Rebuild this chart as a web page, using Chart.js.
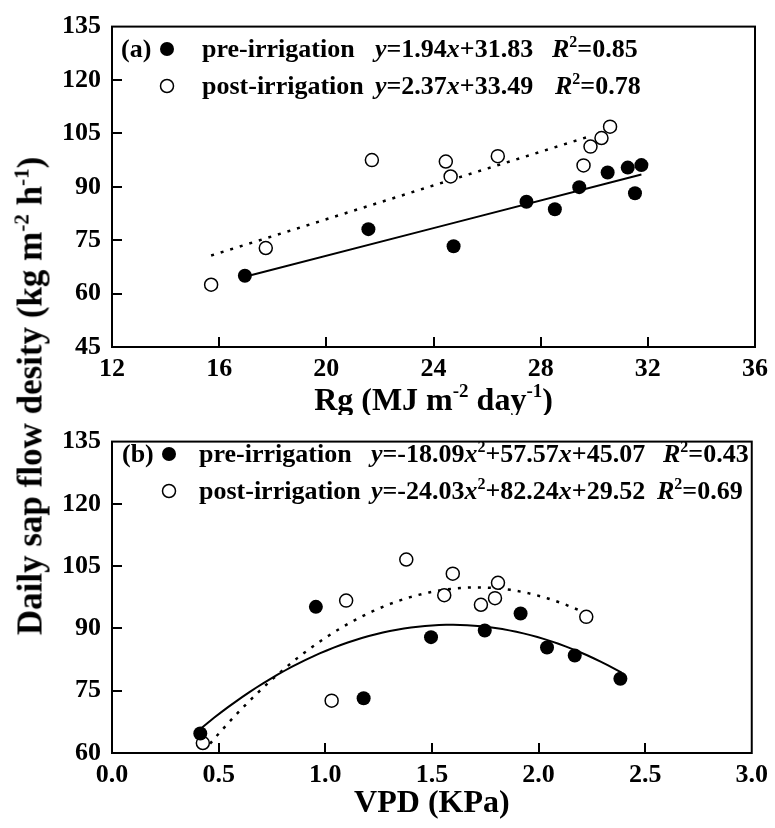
<!DOCTYPE html>
<html>
<head>
<meta charset="utf-8">
<script src="https://cdn.jsdelivr.net/npm/chart.js@4.4.1/dist/chart.umd.min.js"></script>
<style>
  html, body { margin: 0; padding: 0; background: #fff; }
  #wrap { position: relative; width: 775px; height: 828px; }
  canvas { position: absolute; left: 0; display: block; }
  #chartA { top: 0; }
  #chartB { top: 415px; }
  #ytitle {
    position: absolute; left: 30px; top: 396px;
    transform: translate(-50%, -50%) rotate(-90deg);
    font: bold 35px "Liberation Serif", "Times New Roman", serif;
    white-space: nowrap; line-height: 1; color: #000;
  }
  #ytitle sup { font-size: 0.6em; vertical-align: 0.6em; line-height: 0; }
</style>
</head>
<body>
<div id="wrap">
  <canvas id="chartA" width="775" height="415"></canvas>
  <canvas id="chartB" width="775" height="413"></canvas>
  <div id="ytitle">Daily sap flow desity (kg m<sup>-2</sup> h<sup>-1</sup>)</div>
</div>
<script>
// panel (a): daily sap flow vs Rg
const rgPre = [16.96, 21.57, 24.75, 27.47, 28.53, 29.44, 30.50, 31.25, 31.76, 31.52];
const sapRgPre = [65.0, 78.1, 73.3, 85.8, 83.7, 89.9, 94.0, 95.4, 96.1, 88.2];
const rgPost = [15.70, 17.74, 21.70, 24.46, 24.64, 26.40, 29.60, 29.86, 30.27, 30.59];
const sapRgPost = [62.5, 72.8, 97.5, 97.1, 92.9, 98.6, 96.0, 101.3, 103.7, 106.9];
const fitRgPre = [1.94, 31.83];
const fitRgPost = [2.37, 33.49];
const r2Rg = [0.85, 0.78];
const rgPreRange = [16.96, 31.76];
const rgPostRange = [15.7, 29.9];
const rgTicks = [12, 16, 20, 24, 28, 32, 36];
const sapTicksA = [45, 60, 75, 90, 105, 120, 135];

// panel (b): daily sap flow vs VPD
const vpdPre = [0.414, 0.956, 1.18, 1.496, 1.748, 1.916, 2.04, 2.17, 2.384];
const sapVpdPre = [64.7, 95.2, 73.2, 87.9, 89.5, 93.6, 85.4, 83.5, 77.9];
const vpdPost = [0.426, 1.03, 1.098, 1.38, 1.558, 1.598, 1.73, 1.796, 1.81, 2.224];
const sapVpdPost = [62.4, 72.6, 96.7, 106.6, 98.0, 103.2, 95.7, 97.3, 101.0, 92.8];
const fitVpdPre = [-18.09, 57.57, 45.07];
const fitVpdPost = [-24.03, 82.24, 29.52];
const r2Vpd = [0.43, 0.69];
const vpdPreRange = [0.414, 2.39];
const vpdPostRange = [0.46, 2.22];
const vpdTicks = [0, 0.5, 1, 1.5, 2, 2.5, 3];
const vpdTickLabels = ['0.0', '0.5', '1.0', '1.5', '2.0', '2.5', '3.0'];
const sapTicksB = [60, 75, 90, 105, 120, 135];

const FAM = '"Liberation Serif", "Times New Roman", serif';
const tickFont = { family: FAM, size: 26, weight: 'bold' };

function pts(xs, ys) { return xs.map((x, i) => ({ x: x, y: ys[i] })); }

// fitted line from the printed coefficients (highest power first)
function curve(c, range, n) {
  const out = [];
  for (let i = 0; i <= n; i++) {
    const x = range[0] + (range[1] - range[0]) * i / n;
    out.push({ x: x, y: c.reduce((acc, k) => acc * x + k, 0) });
  }
  return out;
}

function eqText(c) {
  if (c.length === 2) return '*y*=' + c[0] + '*x*+' + c[1];
  return '*y*=' + c[0] + '*x*^2^+' + c[1] + '*x*+' + c[2];
}

// *italic*  ^superscript^
function rich(ctx, str, x, y, size, align) {
  const parts = str.split(/(\*[^*]+\*|\^[^^]+\^)/).filter(s => s).map(s => {
    if (s[0] === '*') return { t: s.slice(1, -1), i: true };
    if (s[0] === '^') return { t: s.slice(1, -1), s: true };
    return { t: s };
  });
  const fontOf = p => (p.i ? 'italic ' : '') + 'bold ' + (p.s ? Math.round(size * 0.6) : size) + 'px ' + FAM;
  let w = 0;
  parts.forEach(p => { ctx.font = fontOf(p); w += ctx.measureText(p.t).width; });
  let cx = align === 'center' ? x - w / 2 : x;
  ctx.textAlign = 'left';
  ctx.textBaseline = 'alphabetic';
  ctx.fillStyle = '#000';
  parts.forEach(p => {
    ctx.font = fontOf(p);
    ctx.fillText(p.t, cx, p.s ? y - size * 0.4 : y);
    cx += ctx.measureText(p.t).width;
  });
}

const deco = {
  id: 'deco',
  afterDraw(chart, args, o) {
    const ctx = chart.ctx, a = chart.chartArea;
    const xs = chart.scales.x, ys = chart.scales.y;
    ctx.save();
    ctx.strokeStyle = '#000';
    ctx.lineWidth = 2;
    ctx.strokeRect(a.left, a.top, a.right - a.left, a.bottom - a.top);
    // inward tick marks
    ctx.beginPath();
    o.xTicks.slice(1, -1).forEach(v => {
      const px = Math.round(xs.getPixelForValue(v));
      ctx.moveTo(px, a.bottom); ctx.lineTo(px, a.bottom - 10);
    });
    o.yTicks.slice(1, -1).forEach(v => {
      const py = Math.round(ys.getPixelForValue(v));
      ctx.moveTo(a.left, py); ctx.lineTo(a.left + 10, py);
    });
    ctx.stroke();

    // legend block
    rich(ctx, o.panel, o.cols[0], o.rows[0].base, 26);
    o.rows.forEach(r => {
      ctx.beginPath();
      ctx.arc(o.cols[1], r.base - 8, r.filled ? 7 : 6.5, 0, Math.PI * 2);
      if (r.filled) { ctx.fillStyle = '#000'; ctx.fill(); }
      else { ctx.lineWidth = 1.5; ctx.stroke(); }
      rich(ctx, r.name, o.cols[2], r.base, 26);
      rich(ctx, r.eq, o.cols[3], r.base, 26);
      rich(ctx, r.r2, r.r2x, r.base, 26);
    });

    // x-axis title
    rich(ctx, o.title, (a.left + a.right) / 2, o.titleBase, 32, 'center');
    ctx.restore();
  }
};

function panel(id, cfg) {
  return new Chart(document.getElementById(id), {
    type: 'scatter',
    data: {
      datasets: [
        { data: pts(cfg.xPre, cfg.yPre), pointRadius: 7, pointBackgroundColor: '#000', pointBorderColor: '#000', pointBorderWidth: 0 },
        { data: pts(cfg.xPost, cfg.yPost), pointRadius: 6.5, pointBackgroundColor: '#fff', pointBorderColor: '#000', pointBorderWidth: 1.5 },
        { data: cfg.linePre, showLine: true, pointRadius: 0, borderColor: '#000', borderWidth: 2 },
        { data: cfg.linePost, showLine: true, pointRadius: 0, borderColor: '#000', borderWidth: 2.5, borderDash: [3, 7] }
      ]
    },
    options: {
      responsive: false,
      animation: false,
      events: [],
      layout: { padding: { top: cfg.top, right: 18, left: 0, bottom: 0 } },
      plugins: { legend: { display: false }, tooltip: { enabled: false }, deco: cfg.deco },
      scales: {
        x: {
          type: 'linear', min: cfg.xTicks[0], max: cfg.xTicks[cfg.xTicks.length - 1],
          afterBuildTicks: s => { s.ticks = cfg.xTicks.map(v => ({ value: v })); },
          afterFit: s => { s.height = cfg.xH; },
          grid: { display: false, drawTicks: false },
          border: { display: false },
          ticks: { font: tickFont, color: '#000', padding: 7, autoSkip: false, maxRotation: 0, callback: (v, i) => cfg.xLabels[i] }
        },
        y: {
          min: cfg.yTicks[0], max: cfg.yTicks[cfg.yTicks.length - 1],
          afterBuildTicks: s => { s.ticks = cfg.yTicks.map(v => ({ value: v })); },
          afterFit: s => { s.width = 112; },
          grid: { display: false, drawTicks: false },
          border: { display: false },
          ticks: { font: tickFont, color: '#000', padding: 11, autoSkip: false }
        }
      }
    },
    plugins: [deco]
  });
}

panel('chartA', {
  xPre: rgPre, yPre: sapRgPre, xPost: rgPost, yPost: sapRgPost,
  linePre: curve(fitRgPre, rgPreRange, 2),
  linePost: curve(fitRgPost, rgPostRange, 2),
  xTicks: rgTicks, xLabels: rgTicks.map(String), yTicks: sapTicksA,
  top: 22, xH: 68,
  deco: {
    xTicks: rgTicks, yTicks: sapTicksA,
    panel: '(a)', cols: [121, 167, 202, 375],
    rows: [
      { base: 57, filled: true, name: 'pre-irrigation', eq: eqText(fitRgPre), r2: '*R*^2^=' + r2Rg[0].toFixed(2), r2x: 552 },
      { base: 94, filled: false, name: 'post-irrigation', eq: eqText(fitRgPost), r2: '*R*^2^=' + r2Rg[1].toFixed(2), r2x: 555 }
    ],
    title: 'Rg (MJ m^-2^ day^-1^)', titleBase: 410
  }
});

panel('chartB', {
  xPre: vpdPre, yPre: sapVpdPre, xPost: vpdPost, yPost: sapVpdPost,
  linePre: curve(fitVpdPre, vpdPreRange, 60),
  linePost: curve(fitVpdPost, vpdPostRange, 60),
  xTicks: vpdTicks, xLabels: vpdTickLabels, yTicks: sapTicksB,
  top: 10, xH: 75,
  deco: {
    xTicks: vpdTicks, yTicks: sapTicksB,
    panel: '(b)', cols: [122, 169, 199, 371],
    rows: [
      { base: 47, filled: true, name: 'pre-irrigation', eq: eqText(fitVpdPre), r2: '*R*^2^=' + r2Vpd[0].toFixed(2), r2x: 663 },
      { base: 84, filled: false, name: 'post-irrigation', eq: eqText(fitVpdPost), r2: '*R*^2^=' + r2Vpd[1].toFixed(2), r2x: 657 }
    ],
    title: 'VPD (KPa)', titleBase: 397
  }
});
</script>
</body>
</html>
